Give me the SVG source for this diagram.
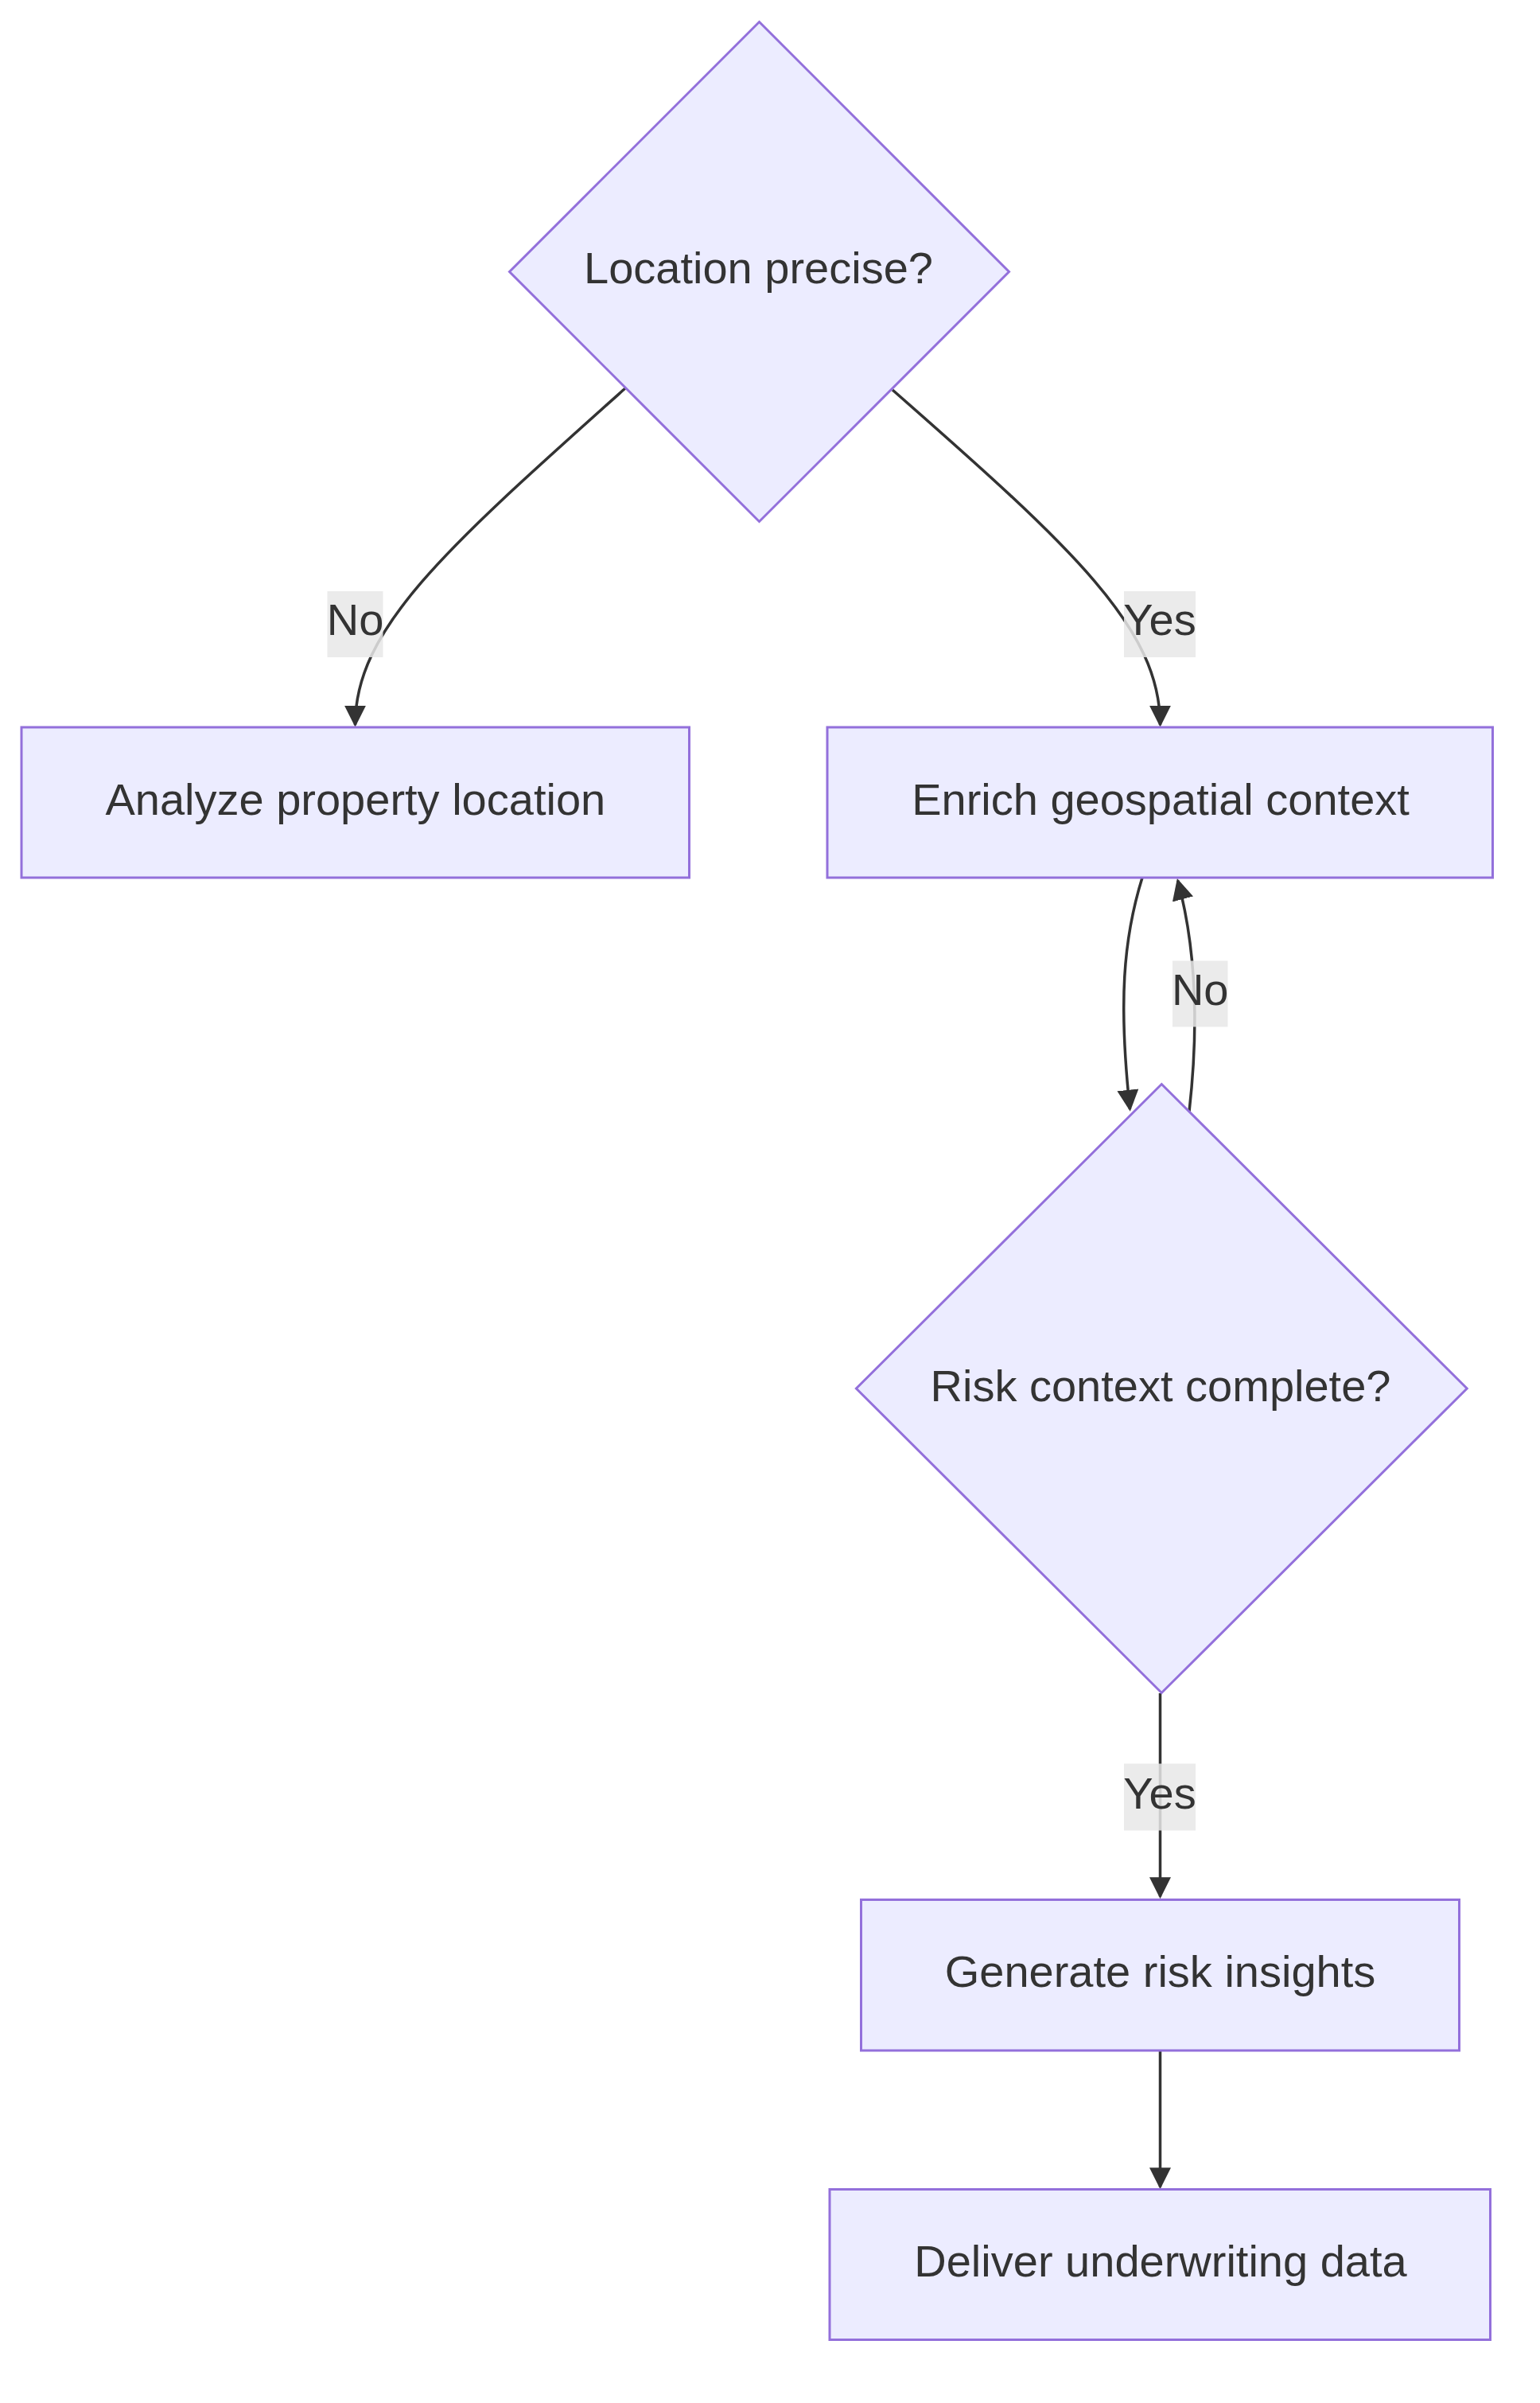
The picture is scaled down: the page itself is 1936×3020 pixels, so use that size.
<svg xmlns="http://www.w3.org/2000/svg" width="1936" height="3020" viewBox="0 0 1936 3020">
<defs>
<marker id="arrow" viewBox="0 0 10 10" refX="9" refY="5" markerUnits="userSpaceOnUse" markerWidth="27" markerHeight="27" orient="auto">
<path d="M0,0 L10,5 L0,10 z" fill="#333333"/>
</marker>
<style>
.node rect, .node polygon { fill: #ECECFF; stroke: #9370DB; stroke-width: 3; }
.edge { fill: none; stroke: #333333; stroke-width: 3.5; marker-end: url(#arrow); }
.lbl rect { fill: #e8e8e8; fill-opacity: 0.85; }
text { font-family: "Liberation Sans", Arial, sans-serif; font-size: 56px; fill: #333333; text-anchor: middle; }
</style>
</defs>
<rect width="1936" height="3020" fill="#ffffff"/>
<g id="connectors">
<path class="edge" d="M786,488 C560,690 446.5,790 446.5,911"/>
<path class="edge" d="M1122,490 C1350,690 1458.5,790 1458.5,911"/>
<path class="edge" d="M1436,1103 C1412,1180 1406,1260 1420.5,1394"/>
<path class="edge" d="M1495,1397 C1506,1300 1506,1200 1480.6,1106.5"/>
<path class="edge" d="M1458.5,2128 L1458.5,2383.5"/>
<path class="edge" d="M1458.5,2577 L1458.5,2748.5"/>
</g>
<g id="edge-labels">
<g class="lbl" id="label-no-1"><rect x="411.5" y="743" width="70" height="83"/><text x="446.5" y="798">No</text></g>
<g class="lbl" id="label-yes-1"><rect x="1413" y="743" width="90" height="83"/><text x="1458" y="798">Yes</text></g>
<g class="lbl" id="label-no-2"><rect x="1474" y="1207.5" width="69.5" height="83"/><text x="1508.7" y="1263">No</text></g>
<g class="lbl" id="label-yes-2"><rect x="1413" y="2216.5" width="90" height="84"/><text x="1458" y="2272.5">Yes</text></g>
</g>
<g class="node" id="location-precise">
<polygon points="954.5,27.5 1268.5,341.5 954.5,655.5 640.5,341.5"/>
<text x="953.5" y="356">Location precise?</text>
</g>
<g class="node" id="analyze-location">
<rect x="27" y="914" width="839.5" height="189"/>
<text x="446.8" y="1023.5">Analyze property location</text>
</g>
<g class="node" id="enrich-context">
<rect x="1040" y="914" width="836.5" height="189"/>
<text x="1459" y="1023.5">Enrich geospatial context</text>
</g>
<g class="node" id="risk-complete">
<polygon points="1460.3,1362.5 1844.2,1745 1460.3,2127.5 1076.4,1745"/>
<text x="1459" y="1760.5">Risk context complete?</text>
</g>
<g class="node" id="generate-insights">
<rect x="1082.5" y="2387.5" width="752" height="189.5"/>
<text x="1458.5" y="2496.5">Generate risk insights</text>
</g>
<g class="node" id="deliver-data">
<rect x="1043" y="2751.5" width="830.5" height="189"/>
<text x="1459" y="2860.5">Deliver underwriting data</text>
</g>
</svg>
